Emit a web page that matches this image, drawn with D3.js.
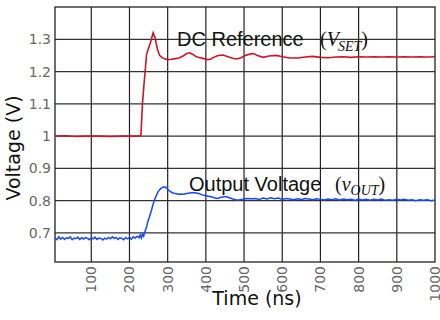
<!DOCTYPE html>
<html>
<head>
<meta charset="utf-8">
<script src="https://cdn.jsdelivr.net/npm/d3@7"></script>
<style>
  body { margin: 0; background: #fff; }
  svg { display: block; }
</style>
</head>
<body>
<div id="chart"></div>
<script>
// data
let xTicks = [100, 200, 300, 400, 500, 600, 700, 800, 900, 1000];
let yTicks = [0.7, 0.8, 0.9, 1.0, 1.1, 1.2, 1.3];
let yTickLabels = ["0.7", "0.8", "0.9", "1", "1.1", "1.2", "1.3"];

// DC reference (V_SET)
let refTime = [5, 30, 60, 90, 120, 150, 180, 210, 225, 230, 234, 238, 241, 245, 248, 255, 262, 267, 273, 279, 285, 292, 300, 310, 320, 330, 340, 350, 358, 366, 375, 385, 395, 405, 412, 420, 432, 445, 458, 470, 481, 492, 503, 515, 525, 535, 550, 565, 585, 600, 620, 640, 660, 680, 700, 720, 740, 760, 780, 800, 820, 840, 860, 880, 900, 920, 940, 960, 980, 1000];
let refVolt = [1.0, 1.001, 0.999, 1.0, 1.0, 0.999, 1.0, 1.0, 1.0, 1.003, 1.10, 1.16, 1.20, 1.255, 1.265, 1.29, 1.32, 1.305, 1.27, 1.25, 1.243, 1.24, 1.237, 1.238, 1.24, 1.242, 1.248, 1.256, 1.258, 1.253, 1.246, 1.243, 1.24, 1.237, 1.238, 1.244, 1.25, 1.251, 1.246, 1.241, 1.239, 1.243, 1.25, 1.254, 1.256, 1.25, 1.244, 1.248, 1.25, 1.246, 1.242, 1.242, 1.245, 1.247, 1.244, 1.243, 1.245, 1.246, 1.244, 1.246, 1.245, 1.246, 1.245, 1.246, 1.245, 1.246, 1.245, 1.246, 1.245, 1.246];

// output voltage (v_OUT)
let outTime = [5, 10, 15, 20, 25, 30, 35, 40, 45, 50, 55, 60, 65, 70, 75, 80, 85, 90, 95, 100, 105, 110, 115, 120, 125, 130, 135, 140, 145, 150, 155, 160, 165, 170, 175, 180, 185, 190, 195, 200, 205, 210, 215, 220, 225, 228, 231, 234, 237, 240, 244, 248, 253, 258, 262, 268, 275, 282, 288, 293, 298, 304, 310, 316, 322, 328, 335, 342, 350, 358, 366, 374, 382, 390, 398, 406, 414, 422, 430, 438, 446, 454, 462, 470, 478, 486, 494, 502, 510, 518, 526, 530, 540, 550, 560, 570, 580, 590, 600, 610, 620, 630, 640, 650, 660, 670, 680, 690, 700, 710, 720, 730, 740, 750, 760, 770, 780, 790, 800, 810, 820, 830, 840, 850, 860, 870, 880, 890, 900, 910, 920, 930, 940, 950, 960, 970, 980, 990, 1000];
let outVolt = [0.684, 0.679, 0.688, 0.681, 0.686, 0.680, 0.685, 0.683, 0.688, 0.679, 0.684, 0.682, 0.687, 0.680, 0.685, 0.681, 0.686, 0.683, 0.679, 0.685, 0.682, 0.687, 0.680, 0.684, 0.683, 0.678, 0.684, 0.681, 0.686, 0.682, 0.688, 0.683, 0.686, 0.680, 0.685, 0.683, 0.679, 0.686, 0.682, 0.686, 0.681, 0.688, 0.684, 0.690, 0.685, 0.694, 0.684, 0.697, 0.690, 0.703, 0.715, 0.735, 0.752, 0.772, 0.790, 0.810, 0.828, 0.838, 0.842, 0.842, 0.838, 0.831, 0.826, 0.823, 0.822, 0.820, 0.821, 0.820, 0.822, 0.824, 0.825, 0.824, 0.822, 0.818, 0.816, 0.814, 0.812, 0.809, 0.807, 0.810, 0.812, 0.812, 0.809, 0.805, 0.803, 0.802, 0.804, 0.806, 0.807, 0.806, 0.806, 0.807, 0.804, 0.808, 0.805, 0.809, 0.806, 0.808, 0.804, 0.807, 0.805, 0.803, 0.806, 0.804, 0.807, 0.805, 0.803, 0.806, 0.804, 0.802, 0.805, 0.803, 0.806, 0.802, 0.805, 0.803, 0.804, 0.801, 0.805, 0.802, 0.804, 0.801, 0.804, 0.802, 0.805, 0.801, 0.803, 0.801, 0.804, 0.802, 0.804, 0.801, 0.803, 0.800, 0.803, 0.801, 0.803, 0.800, 0.802];

// set the dimensions and margins of the graph
let margin = { top: 7, right: 5, bottom: 58, left: 55 },
    width = 440 - margin.left - margin.right,
    height = 320 - margin.top - margin.bottom;

let svg = d3.select("#chart")
    .append("svg")
    .attr("width", 440)
    .attr("height", 320)
    .append("g")
    .attr("transform", "translate(" + margin.left + "," + margin.top + ")");

let x = d3.scaleLinear().domain([5, 1000]).range([0, width]);
let y = d3.scaleLinear().domain([0.61, 1.40]).range([height, 0]);

// grid
svg.selectAll(".vgrid")
    .data(xTicks.slice(0, -1))
    .enter().append("line")
    .attr("x1", d => x(d)).attr("x2", d => x(d))
    .attr("y1", 0).attr("y2", height)
    .attr("stroke", "#222").attr("stroke-width", 1.2);

svg.selectAll(".hgrid")
    .data(yTicks)
    .enter().append("line")
    .attr("x1", 0).attr("x2", width)
    .attr("y1", d => y(d)).attr("y2", d => y(d))
    .attr("stroke", "#333").attr("stroke-width", 1.2);

// frame
svg.append("rect")
    .attr("width", width).attr("height", height)
    .attr("fill", "none").attr("stroke", "#222").attr("stroke-width", 1.3);

// Add Y axis labels
svg.selectAll(".ylab")
    .data(yTicks)
    .enter().append("text")
    .attr("x", -4)
    .attr("y", (d, i) => y(d) + 5)
    .attr("text-anchor", "end")
    .style("font", "14px 'DejaVu Sans'")
    .attr("fill", "#666")
    .text((d, i) => yTickLabels[i]);

// Add X axis labels (rotated)
svg.selectAll(".xlab")
    .data(xTicks)
    .enter().append("text")
    .attr("transform", d => "translate(" + (x(d) + 5) + "," + (height + 4) + ") rotate(-90)")
    .attr("text-anchor", "end")
    .style("font", "14px 'DejaVu Sans'")
    .attr("fill", "#666")
    .text(d => d);

// lines
let refLine = d3.line().x((d, i) => x(refTime[i])).y(d => y(d));
let outLine = d3.line().x((d, i) => x(outTime[i])).y(d => y(d));

svg.append("path")
    .datum(refVolt)
    .attr("d", refLine)
    .attr("fill", "none")
    .attr("stroke", "#cc1526")
    .attr("stroke-width", 1.6);

svg.append("path")
    .datum(outVolt)
    .attr("d", outLine)
    .attr("fill", "none")
    .attr("stroke", "#1747ff")
    .attr("stroke-width", 1.5);

// annotations
svg.append("text")
    .attr("x", 122).attr("y", 39)
    .style("font", "20px 'Liberation Sans'")
    .attr("fill", "#111")
    .text("DC Reference");
let vset = svg.append("text")
    .attr("x", 265).attr("y", 39)
    .style("font", "italic 20px 'Liberation Serif'")
    .attr("fill", "#111");
vset.append("tspan").style("font-style", "normal").text("(");
vset.append("tspan").text("V");
vset.append("tspan").attr("dx", -1).attr("dy", 5).style("font-size", "14px").text("SET");
vset.append("tspan").attr("dy", -5).style("font-style", "normal").text(")");

svg.append("text")
    .attr("x", 134).attr("y", 184)
    .style("font", "20px 'Liberation Sans'")
    .attr("fill", "#111")
    .text("Output Voltage");
let vout = svg.append("text")
    .attr("x", 280).attr("y", 184)
    .style("font", "italic 20px 'Liberation Serif'")
    .attr("fill", "#111");
vout.append("tspan").style("font-style", "normal").text("(");
vout.append("tspan").text("v");
vout.append("tspan").attr("dy", 4).style("font-size", "14px").text("OUT");
vout.append("tspan").attr("dy", -4).style("font-style", "normal").text(")");

// text label for the x axis
svg.append("text")
    .attr("x", 202).attr("y", 305 - margin.top)
    .style("text-anchor", "middle")
    .style("font", "19px 'DejaVu Sans'")
    .attr("fill", "#111")
    .text("Time (ns)");

// text label for the y axis
svg.append("text")
    .attr("transform", "rotate(-90)")
    .attr("x", -(148 - margin.top))
    .attr("y", -35)
    .style("text-anchor", "middle")
    .style("font", "19px 'DejaVu Sans'")
    .attr("fill", "#111")
    .text("Voltage (V)");
</script>
</body>
</html>
